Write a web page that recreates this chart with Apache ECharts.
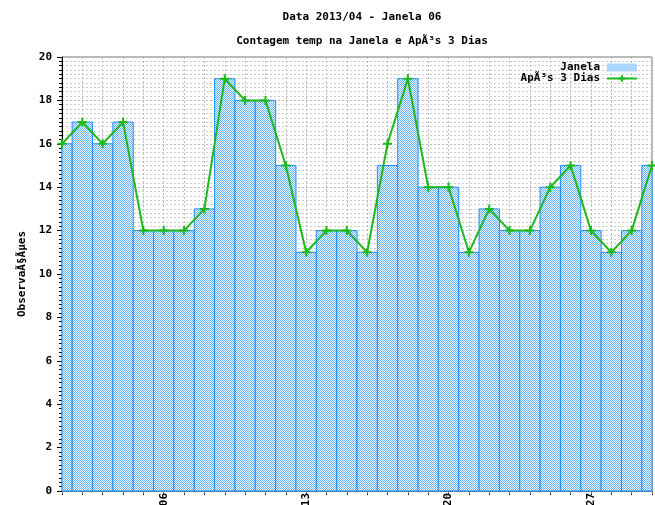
<!DOCTYPE html>
<html>
<head>
<meta charset="utf-8">
<script src="https://cdn.jsdelivr.net/npm/echarts@6/dist/echarts.min.js"></script>
<style>
  html, body { margin: 0; padding: 0; background: #fff; }
  #chart { width: 655px; height: 505px; }
</style>
</head>
<body>
<div id="chart"></div>
<script>
// Daily counts for April 2013, window 06
const days = [1,2,3,4,5,6,7,8,9,10,11,12,13,14,15,16,17,18,19,20,21,22,23,24,25,26,27,28,29,30];
const janela = [16,17,16,17,12,12,12,13,19,18,18,15,11,12,12,11,15,19,14,14,11,13,12,12,14,15,12,11,12,15];
const apos3Dias = [16,17,16,17,12,12,12,13,19,18,18,15,11,12,12,11,16,19,14,14,11,13,12,12,14,15,12,11,12,15];
const labeledDays = [6, 13, 20, 27];

const FONT = 'DejaVu Sans Mono';
const BAR_BORDER = '#1e8cff';
const LINE_GREEN = '#1cb81c';

// checkered fill for the bars
function checker() {
  const c = document.createElement('canvas');
  c.width = 2; c.height = 2;
  const g = c.getContext('2d');
  g.fillStyle = '#f2f8ff'; g.fillRect(0, 0, 2, 2);
  g.fillStyle = '#66b2ff'; g.fillRect(0, 0, 1, 1); g.fillRect(1, 1, 1, 1);
  return c;
}
const pattern = { image: checker(), repeat: 'repeat' };

// one full-width box per day, clipped to the plot area
function renderBar(params, api) {
  const d = api.value(0), v = api.value(1);
  const p0 = api.coord([d - 0.5, 0]);
  const p1 = api.coord([d + 0.5, v]);
  const rect = echarts.graphic.clipRectByRect(
    { x: p0[0], y: p1[1], width: p1[0] - p0[0], height: p0[1] - p1[1] },
    params.coordSys
  );
  if (!rect) return null;
  return {
    type: 'rect',
    shape: rect,
    style: { fill: pattern, stroke: BAR_BORDER, lineWidth: 1 }
  };
}

const chart = echarts.init(document.getElementById('chart'), null, { renderer: 'canvas' });
chart.setOption({
  animation: false,
  backgroundColor: '#fff',
  textStyle: { fontFamily: FONT },
  title: [
    { text: 'Data 2013/04 - Janela 06', left: 357, top: 7, textAlign: 'center',
      textStyle: { fontFamily: FONT, fontSize: 11, fontWeight: 'bold', color: '#000' } },
    { text: 'Contagem temp na Janela e ApÃ³s 3 Dias', left: 357, top: 31, textAlign: 'center',
      textStyle: { fontFamily: FONT, fontSize: 11, fontWeight: 'bold', color: '#000' } }
  ],
  legend: {
    orient: 'vertical', right: 12, top: 57, align: 'right',
    itemWidth: 30, itemHeight: 8, itemGap: 0,
    textStyle: { fontFamily: FONT, fontSize: 11, fontWeight: 'bold', color: '#000', padding: [0, 2, 0, 0] },
    data: [
      { name: 'Janela', icon: 'rect', itemStyle: { color: pattern, borderColor: BAR_BORDER, borderWidth: 0 } },
      { name: 'ApÃ³s 3 Dias' }
    ]
  },
  grid: { left: 62, right: 3, top: 57, bottom: 14, outerBoundsMode: 'none', containLabel: false,
          show: true, borderColor: '#777', borderWidth: 1 },
  xAxis: [{
    type: 'value', min: 1, max: 30, interval: 1,
    axisLine: { show: true, onZero: false, lineStyle: { color: '#000' } },
    axisTick: { show: true, inside: false, length: 4, lineStyle: { color: '#000' } },
    axisLabel: {
      rotate: 90, fontFamily: FONT, fontSize: 11, fontWeight: 'bold', color: '#000', margin: 2,
      formatter: v => labeledDays.includes(v) ? String(v).padStart(2, '0') : ''
    },
    splitLine: { show: true, lineStyle: { color: '#bbb', type: [2, 2] } }
  }, {
    type: 'value', min: 1, max: 30, interval: 1, position: 'top',
    axisLine: { show: true, lineStyle: { color: '#777' } },
    axisTick: { show: true, inside: true, length: 3, lineStyle: { color: '#777' } },
    axisLabel: { show: false },
    splitLine: { show: false }
  }],
  yAxis: {
    type: 'value', min: 0, max: 20, interval: 2,
    name: 'ObservaÃ§Ãµes', nameLocation: 'middle', nameGap: 30, nameRotate: 90,
    nameTextStyle: { fontFamily: FONT, fontSize: 11, fontWeight: 'bold', color: '#000' },
    axisLine: { show: true, lineStyle: { color: '#000' } },
    axisTick: { show: true, inside: false, length: 5, lineStyle: { color: '#000' } },
    minorTick: { show: true, splitNumber: 10, length: 3, lineStyle: { color: '#000' } },
    axisLabel: { fontFamily: FONT, fontSize: 11, fontWeight: 'bold', color: '#000', margin: 10 },
    splitLine: { show: true, lineStyle: { color: '#bbb', type: [2, 2] } },
    minorSplitLine: { show: true, lineStyle: { color: '#ccc', type: [2, 2] } }
  },
  series: [{
    name: 'Janela', type: 'custom', xAxisIndex: 0,
    renderItem: renderBar,
    itemStyle: { color: pattern },
    encode: { x: 0, y: 1 },
    data: days.map((d, i) => [d, janela[i]]),
    z: 2
  }, {
    name: 'ApÃ³s 3 Dias', type: 'line', xAxisIndex: 0,
    symbol: 'path://M0,5L10,5M5,0L5,10', symbolSize: 9, showSymbol: true,
    lineStyle: { color: LINE_GREEN, width: 2 },
    itemStyle: { color: 'rgba(0,0,0,0)', borderColor: LINE_GREEN, borderWidth: 2 },
    data: days.map((d, i) => [d, apos3Dias[i]]),
    z: 3
  }]
});
</script>
</body>
</html>
